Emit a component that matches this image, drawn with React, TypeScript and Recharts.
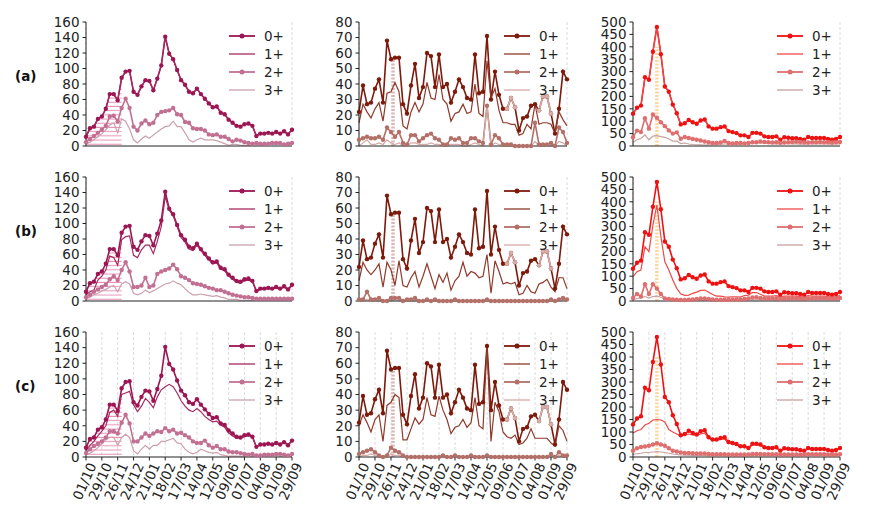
import React from "react";
import { ComposedChart, Line, Area, XAxis, YAxis, CartesianGrid, ReferenceLine } from "recharts";

const FONT = "DejaVu Sans, sans-serif";
const TICK_LABELS = ["01/10", "29/10", "26/11", "24/12", "21/01", "18/02", "17/03", "14/04", "12/05", "09/06", "07/07", "04/08", "01/09", "29/09"];
const SERIES_NAMES = ["0+", "1+", "2+", "3+"];
const ROW_LABELS = ["(a)", "(b)", "(c)"];

// column 1
const COL1_0 = [12, 23, 25, 35, 38, 48, 67, 67, 59, 88, 96, 97, 70, 66, 77, 85, 84, 72, 87, 104, 141, 119, 112, 98, 85, 79, 70, 68, 74, 67, 61, 55, 50, 51, 43, 41, 34, 30, 26, 25, 28, 29, 26, 13, 16, 16, 17, 16, 18, 16, 19, 15, 21];
const COL1_A_1 = COL1_0;
const COL1_A_2 = [5, 9, 13, 17, 21, 26, 38, 39, 32, 49, 61, 49, 25, 20, 29, 33, 28, 30, 40, 44, 45, 46, 49, 41, 40, 31, 30, 23, 22, 22, 20, 15, 14, 15, 12, 12, 9, 6, 8, 7, 5, 4, 3, 4, 3, 3, 3, 4, 4, 4, 2, 3, 4];
const COL1_A_3 = [3, 5, 8, 12, 16, 21, 27, 30, 17, 35, 32, 22, 8, 4, 9, 13, 10, 14, 18, 22, 25, 26, 32, 25, 25, 17, 8, 5, 8, 10, 8, 8, 8, 7, 5, 3, 1, 2, 2, 1, 1, 1, 1, 2, 1, 1, 2, 2, 2, 2, 2, 1, 2];
const COL1_B_1 = [8, 12, 14, 27, 32, 40, 58, 56, 46, 79, 83, 84, 59, 56, 66, 72, 72, 61, 77, 96, 135, 117, 110, 96, 82, 76, 67, 65, 72, 65, 59, 53, 48, 49, 41, 39, 32, 28, 24, 23, 26, 27, 25, 12, 15, 15, 16, 15, 17, 15, 18, 14, 20];
const COL1_B_2 = [5, 8, 12, 15, 18, 21, 28, 32, 27, 40, 50, 38, 18, 18, 20, 30, 18, 20, 35, 38, 40, 42, 47, 41, 32, 30, 27, 23, 22, 21, 19, 17, 16, 14, 14, 12, 10, 8, 7, 6, 5, 5, 4, 3, 3, 3, 3, 3, 3, 3, 3, 3, 3];
const COL1_B_3 = [3, 5, 8, 10, 13, 15, 18, 20, 12, 22, 25, 22, 10, 8, 10, 14, 11, 13, 16, 19, 22, 23, 26, 23, 21, 16, 11, 8, 8, 9, 8, 7, 6, 7, 5, 4, 2, 2, 2, 1, 1, 1, 1, 1, 1, 1, 1, 1, 1, 1, 1, 1, 1];
const COL1_C_1 = [8, 15, 20, 27, 33, 40, 57, 60, 52, 80, 82, 84, 67, 58, 65, 75, 70, 63, 77, 86, 90, 93, 90, 82, 72, 65, 60, 58, 62, 58, 52, 48, 45, 46, 41, 38, 31, 27, 24, 24, 26, 27, 26, 13, 16, 16, 17, 16, 18, 16, 19, 15, 21];
const COL1_C_2 = [5, 10, 14, 17, 20, 25, 33, 33, 30, 44, 54, 43, 20, 20, 25, 30, 27, 30, 33, 32, 37, 33, 35, 30, 31, 28, 25, 20, 18, 18, 21, 15, 12, 14, 10, 10, 7, 6, 6, 5, 4, 3, 4, 2, 2, 3, 3, 3, 4, 4, 3, 2, 4];
const COL1_C_3 = [3, 5, 8, 12, 17, 22, 25, 25, 15, 25, 29, 25, 8, 4, 10, 15, 10, 15, 15, 20, 20, 22, 24, 18, 17, 10, 6, 4, 6, 10, 8, 6, 5, 6, 3, 2, 1, 1, 1, 1, 1, 1, 1, 1, 1, 1, 1, 1, 2, 1, 1, 1, 1];

// column 2
const COL2_0 = [22, 39, 27, 28, 37, 43, 28, 68, 56, 57, 57, 27, 21, 39, 53, 31, 38, 60, 58, 38, 59, 38, 40, 28, 35, 43, 38, 31, 30, 59, 34, 35, 71, 30, 48, 33, 24, 24, 31, 25, 10, 18, 19, 26, 27, 23, 32, 32, 21, 8, 24, 48, 43];
const COL2_A_1 = [15, 27, 22, 18, 24, 28, 16, 34, 35, 41, 35, 13, 11, 22, 28, 22, 27, 41, 31, 30, 46, 30, 27, 16, 21, 22, 27, 21, 22, 40, 21, 19, 55, 31, 37, 23, 15, 15, 14, 14, 7, 8, 14, 11, 27, 14, 15, 15, 14, 8, 22, 17, 13];
const COL2_A_2 = [4, 5, 6, 5, 5, 6, 4, 12, 9, 6, 9, 2, 1, 7, 7, 3, 5, 7, 8, 5, 4, 1, 1, 5, 4, 5, 2, 2, 5, 5, 3, 2, 26, 1, 7, 5, 1, 1, 1, 0, 0, 0, 0, 0, 15, 1, 1, 1, 2, 0, 12, 9, 2];
const COL2_A_3 = [0, 2, 4, 1, 1, 2, 1, 4, 2, 1, 2, 0, 0, 2, 2, 1, 1, 1, 2, 1, 1, 0, 0, 1, 1, 1, 0, 0, 1, 2, 1, 0, 26, 0, 2, 1, 0, 0, 0, 0, 0, 0, 0, 0, 3, 0, 0, 0, 0, 0, 3, 2, 0];
const COL2_B_1 = [13, 25, 20, 17, 20, 24, 9, 25, 20, 10, 26, 10, 9, 15, 19, 9, 16, 24, 16, 8, 17, 12, 18, 7, 13, 16, 25, 16, 19, 18, 15, 16, 30, 5, 26, 19, 11, 12, 11, 12, 4, 5, 10, 6, 5, 11, 12, 14, 9, 6, 15, 15, 8];
const COL2_B_2 = [1, 1, 6, 1, 1, 2, 0, 0, 2, 2, 2, 0, 1, 1, 2, 0, 0, 1, 0, 1, 0, 0, 0, 0, 1, 0, 0, 0, 0, 0, 0, 0, 1, 0, 0, 0, 0, 0, 0, 0, 0, 0, 0, 0, 0, 0, 0, 0, 1, 0, 1, 2, 1];
const COL2_B_3 = [0, 0, 1, 0, 0, 0, 0, 0, 0, 1, 0, 0, 0, 0, 0, 0, 0, 0, 0, 0, 0, 0, 0, 0, 0, 0, 0, 0, 0, 0, 0, 0, 0, 0, 0, 0, 0, 0, 0, 0, 0, 0, 0, 0, 0, 0, 0, 0, 0, 0, 0, 1, 0];
const COL2_C_1 = [20, 27, 22, 16, 24, 27, 10, 33, 35, 40, 38, 11, 11, 18, 25, 21, 24, 38, 27, 26, 39, 30, 24, 15, 19, 20, 24, 19, 22, 38, 20, 18, 71, 10, 35, 29, 16, 13, 12, 14, 8, 9, 12, 18, 12, 12, 12, 12, 9, 7, 20, 17, 10];
const COL2_C_2 = [2, 3, 4, 5, 3, 1, 0, 1, 6, 4, 3, 1, 0, 0, 0, 0, 0, 0, 0, 0, 0, 1, 0, 0, 1, 0, 0, 0, 1, 0, 0, 0, 1, 0, 0, 0, 0, 0, 0, 0, 0, 0, 0, 0, 0, 0, 0, 0, 2, 0, 3, 1, 1];
const COL2_C_3 = [0, 1, 1, 2, 1, 0, 0, 0, 2, 1, 1, 0, 0, 0, 0, 0, 0, 0, 0, 0, 0, 0, 0, 0, 0, 0, 0, 0, 0, 0, 0, 0, 0, 0, 0, 0, 0, 0, 0, 0, 0, 0, 0, 0, 0, 0, 0, 0, 1, 0, 1, 0, 0];
const COL2_EST_WEEKS = [37, 38, 39, 45, 46, 47, 48];

// column 3
const COL3_0 = [130, 154, 163, 277, 267, 380, 480, 370, 240, 219, 167, 132, 87, 92, 105, 96, 90, 103, 107, 79, 70, 70, 76, 79, 60, 56, 52, 43, 43, 36, 53, 53, 50, 39, 36, 36, 39, 25, 35, 33, 31, 31, 28, 25, 36, 32, 32, 32, 32, 28, 25, 28, 36];
const COL3_A_1 = COL3_0;
const COL3_A_2 = [35, 62, 56, 112, 70, 127, 114, 96, 80, 63, 50, 55, 29, 36, 32, 28, 25, 22, 18, 15, 12, 12, 14, 20, 12, 10, 12, 12, 10, 12, 15, 15, 18, 16, 15, 14, 15, 13, 14, 15, 16, 17, 16, 15, 14, 15, 15, 16, 15, 15, 14, 15, 16];
const COL3_A_3 = [15, 25, 30, 45, 25, 40, 42, 38, 35, 28, 20, 20, 10, 12, 8, 6, 5, 5, 4, 5, 5, 6, 7, 8, 8, 6, 6, 7, 8, 9, 10, 12, 13, 12, 10, 9, 8, 8, 9, 9, 8, 8, 7, 7, 8, 8, 8, 9, 8, 8, 7, 8, 8];
const COL3_B_1 = [98, 118, 125, 219, 199, 306, 387, 260, 158, 125, 85, 51, 28, 23, 24, 31, 36, 43, 44, 35, 26, 20, 20, 17, 16, 17, 17, 16, 22, 24, 34, 34, 27, 20, 20, 20, 22, 15, 20, 20, 20, 20, 18, 16, 22, 20, 20, 20, 20, 18, 16, 18, 22];
const COL3_B_2 = [12, 28, 18, 68, 28, 68, 50, 28, 10, 8, 6, 5, 4, 4, 5, 6, 8, 10, 10, 8, 6, 5, 5, 5, 5, 5, 6, 6, 8, 10, 14, 15, 12, 10, 10, 10, 11, 9, 10, 10, 11, 11, 10, 10, 11, 11, 11, 12, 11, 11, 10, 10, 12];
const COL3_B_3 = [5, 10, 12, 18, 12, 18, 20, 15, 8, 5, 3, 2, 2, 2, 2, 2, 3, 3, 3, 3, 2, 2, 2, 2, 2, 2, 2, 3, 3, 4, 5, 5, 5, 4, 4, 4, 4, 4, 4, 4, 5, 5, 4, 4, 5, 5, 5, 5, 5, 5, 4, 4, 5];
const COL3_C_1 = [96, 105, 110, 128, 135, 148, 150, 148, 140, 110, 100, 92, 85, 88, 92, 88, 86, 92, 95, 75, 66, 66, 70, 72, 55, 52, 48, 40, 40, 33, 48, 48, 46, 36, 33, 33, 36, 23, 32, 30, 29, 29, 26, 23, 33, 30, 30, 30, 30, 26, 23, 26, 33];
const COL3_C_2 = [25, 35, 40, 42, 45, 50, 55, 50, 45, 35, 25, 22, 18, 16, 16, 15, 14, 14, 14, 12, 11, 11, 11, 11, 10, 10, 10, 10, 10, 10, 12, 12, 12, 11, 11, 11, 11, 10, 10, 10, 10, 10, 10, 10, 11, 11, 11, 11, 11, 10, 10, 10, 11];
const COL3_C_3 = [10, 13, 15, 18, 18, 20, 22, 20, 18, 15, 12, 10, 8, 7, 7, 6, 6, 6, 6, 5, 5, 5, 5, 5, 4, 4, 4, 4, 4, 4, 5, 5, 5, 5, 5, 5, 5, 4, 4, 4, 4, 4, 4, 4, 5, 5, 5, 5, 5, 4, 4, 4, 5];

const Y1_TICKS = [0, 20, 40, 60, 80, 100, 120, 140, 160];
const Y2_TICKS = [0, 10, 20, 30, 40, 50, 60, 70, 80];
const Y3_TICKS = [0, 50, 100, 150, 200, 250, 300, 350, 400, 450, 500];
const TICK_WEEKS = TICK_LABELS.map((_, i) => i * 4);

const COLS = [
  {
    left: 86, width: 206, domain: [0, 160], ticks: Y1_TICKS, zero: COL1_0,
    rows: [[COL1_A_1, COL1_A_2, COL1_A_3], [COL1_B_1, COL1_B_2, COL1_B_3], [COL1_C_1, COL1_C_2, COL1_C_3]],
    colors: ["#9c1653", "#a82a60", "#c27092", "#cba1ad"],
    hatchEnd: 9, hatchColor: "#e592b5",
  },
  {
    left: 359, width: 208, domain: [0, 80], ticks: Y2_TICKS, zero: COL2_0,
    rows: [[COL2_A_1, COL2_A_2, COL2_A_3], [COL2_B_1, COL2_B_2, COL2_B_3], [COL2_C_1, COL2_C_2, COL2_C_3]],
    colors: ["#7e1a0c", "#8f3a2c", "#b37068", "#d4aaa6"],
    band: { week: 8.5, top: 56, color: "#dcb6b2" },
    estWeeks: COL2_EST_WEEKS, estColor: "#d8aca8",
  },
  {
    left: 633, width: 207, domain: [0, 500], ticks: Y3_TICKS, zero: COL3_0,
    rows: [[COL3_A_1, COL3_A_2, COL3_A_3], [COL3_B_1, COL3_B_2, COL3_B_3], [COL3_C_1, COL3_C_2, COL3_C_3]],
    colors: ["#ee1111", "#f04848", "#df6f6f", "#c8a0a0"],
    band: { week: 6, top: 400, color: "#ffd6a0" },
  },
];

const ROW_TOPS = [22, 177, 332];
const ROW_H = [124, 124, 125];
const Y_W = 50;
const M_TOP = 10;
const M_RIGHT = 22;

const RotTick = (props: any) => {
  const { x, y, payload } = props;
  const label = TICK_LABELS[Math.round(payload.value / 4)];
  const ax = x + 2;
  const ay = y - 1;
  return (
    <text x={ax} y={ay} dy="0.71em" transform={`rotate(-66 ${ax} ${ay})`} textAnchor="end"
      fill="#222" fontSize={13.5} fontFamily={FONT}>
      {label}
    </text>
  );
};

function Legend({ col, row }: { col: number; row: number }) {
  const c = COLS[col];
  const right = c.left + c.width;
  return (
    <>
      {SERIES_NAMES.map((name, i) => {
        const y = ROW_TOPS[row] + 14 + 18 * i;
        const withDot = i === 0 || i === 2;
        return (
          <div key={name} style={{ position: "absolute", left: right - 63, top: y - 9, height: 18, display: "flex", alignItems: "center" }}>
            <svg width={26} height={18} style={{ display: "block" }}>
              <line x1={0} y1={9} x2={26} y2={9} stroke={c.colors[i]} strokeWidth={withDot ? 1.8 : 1.3} />
              {withDot && <circle cx={13} cy={9} r={2.5} fill={c.colors[i]} />}
            </svg>
            <span style={{ marginLeft: 9, fontSize: 13.5, color: "#222", lineHeight: "18px" }}>{name}</span>
          </div>
        );
      })}
    </>
  );
}

function Panel({ col, row }: { col: number; row: number }) {
  const c: any = COLS[col];
  const bottom = row === 2;
  const xH = bottom ? 62 : 12;
  const plotH = ROW_H[row];
  const width = Y_W + c.width + M_RIGHT;
  const height = M_TOP + plotH + xH;
  const [s1, s2, s3] = c.rows[row];
  const data = c.zero.map((v: number, i: number) => ({
    w: i,
    s0: v,
    s1: s1[i],
    s2: s2[i],
    s3: s3[i],
    hatch: c.hatchEnd != null && i <= c.hatchEnd ? v : null,
    est: c.estWeeks && c.estWeeks.includes(i) ? v : null,
  }));
  const pid = `hatch-${col}-${row}`;
  const dot = (color: string) => ({ r: 2.2, fill: color, stroke: color, strokeWidth: 0 });
  return (
    <div style={{ position: "absolute", left: c.left - Y_W, top: ROW_TOPS[row] - M_TOP }}>
      <ComposedChart width={width} height={height} data={data} margin={{ top: M_TOP, right: M_RIGHT, bottom: 0, left: 0 }}>
        <defs>
          <pattern id={pid} width={6} height={4.2} patternUnits="userSpaceOnUse">
            <line x1={0} y1={2} x2={6} y2={2} stroke={c.hatchColor || "#fff"} strokeWidth={1} />
          </pattern>
        </defs>
        <CartesianGrid vertical horizontal={false} stroke="#dcdcdc" strokeDasharray="3 2" />
        <XAxis type="number" dataKey="w" domain={[0, 52]} ticks={TICK_WEEKS} interval={0} height={xH}
          tickSize={3.5} tickMargin={2} stroke="#222" tick={bottom ? <RotTick /> : false} />
        <YAxis type="number" domain={c.domain} ticks={c.ticks} interval={0} width={Y_W} tickSize={3.5} tickMargin={3}
          stroke="#222" tick={{ fill: "#222", fontSize: 13.5, fontFamily: FONT }} />
        {c.hatchEnd != null && (
          <Area dataKey="hatch" type="linear" stroke="none" fill={`url(#${pid})`} fillOpacity={1} isAnimationActive={false} activeDot={false} />
        )}
        {c.band && (
          <ReferenceLine segment={[{ x: c.band.week, y: 0 }, { x: c.band.week, y: c.band.top }]}
            stroke={c.band.color} strokeWidth={3.5} strokeDasharray="2 1.5" />
        )}
        <Line dataKey="s0" type="linear" stroke={c.colors[0]} strokeWidth={1.6} dot={dot(c.colors[0])} activeDot={false} isAnimationActive={false} />
        <Line dataKey="s1" type="linear" stroke={c.colors[1]} strokeWidth={1.2} dot={false} activeDot={false} isAnimationActive={false} />
        <Line dataKey="s2" type="linear" stroke={c.colors[2]} strokeWidth={1.6} dot={dot(c.colors[2])} activeDot={false} isAnimationActive={false} />
        <Line dataKey="s3" type="linear" stroke={c.colors[3]} strokeWidth={1.2} dot={false} activeDot={false} isAnimationActive={false} />
        {c.estWeeks && (
          <Line dataKey="est" type="linear" stroke={c.estColor} strokeWidth={1.6} dot={dot(c.estColor)} activeDot={false} isAnimationActive={false} />
        )}
      </ComposedChart>
    </div>
  );
}

export default function App() {
  return (
    <div style={{ position: "absolute", left: 0, top: 0, width: 872, height: 523, background: "#fff", fontFamily: FONT, overflow: "hidden" }}>
      {ROW_LABELS.map((label, row) => (
        <div key={label} style={{ position: "absolute", left: 15, top: ROW_TOPS[row] + 54 - 9, fontSize: 13.5, fontWeight: "bold", color: "#111", lineHeight: "18px" }}>
          {label}
        </div>
      ))}
      {[0, 1, 2].map((row) =>
        [0, 1, 2].map((col) => (
          <React.Fragment key={`${row}-${col}`}>
            <Panel col={col} row={row} />
            <Legend col={col} row={row} />
          </React.Fragment>
        ))
      )}
    </div>
  );
}
